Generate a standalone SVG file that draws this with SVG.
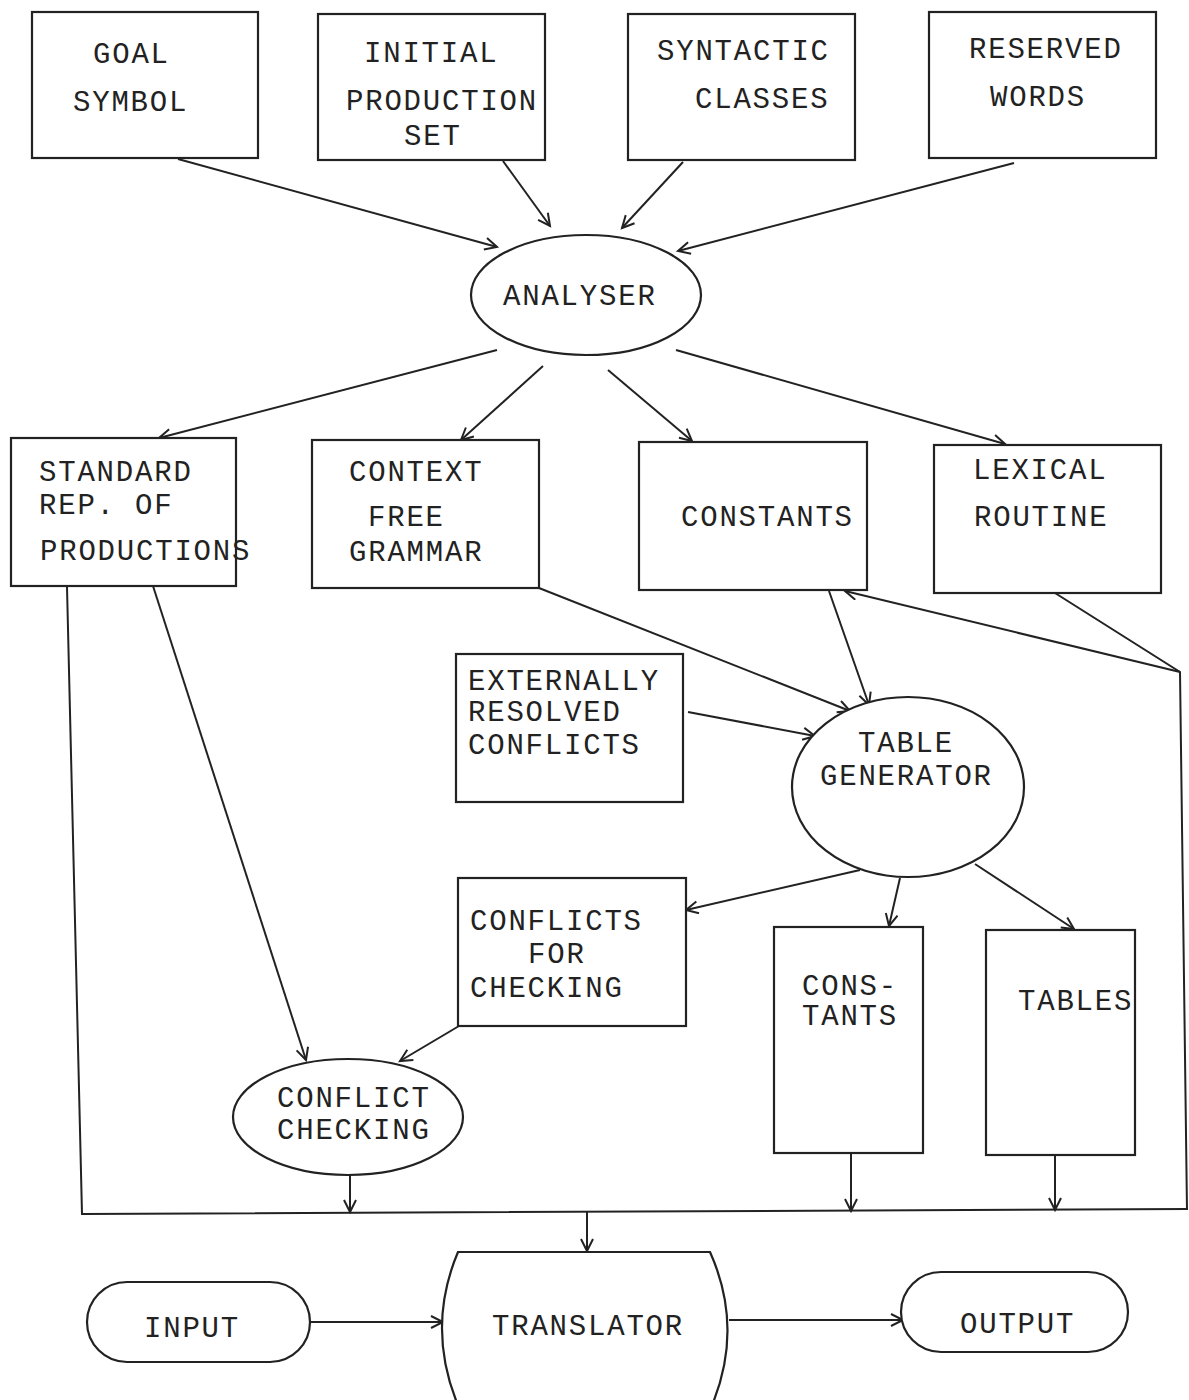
<svg xmlns="http://www.w3.org/2000/svg" width="1189" height="1400" viewBox="0 0 1189 1400">
<defs>
<marker id="arr" markerUnits="userSpaceOnUse" markerWidth="16" markerHeight="16" refX="13" refY="7" orient="auto">
<path d="M1,1 L13,7 L1,13" fill="none" stroke="#222" stroke-width="2"/>
</marker>
</defs>
<style>
.box{fill:#fff;stroke:#222;stroke-width:2.2}
.ln{fill:none;stroke:#222;stroke-width:2}
.t{font-family:"Liberation Mono","Courier New",monospace;font-size:29px;letter-spacing:1.8px;fill:#222}
</style>
<rect width="1189" height="1400" fill="#fff"/>
<g id="connectors">
<line class="ln" x1="178" y1="159" x2="497" y2="247" marker-end="url(#arr)"/>
<line class="ln" x1="503" y1="161" x2="550" y2="226" marker-end="url(#arr)"/>
<line class="ln" x1="683" y1="162" x2="622" y2="228" marker-end="url(#arr)"/>
<line class="ln" x1="1014" y1="163" x2="678" y2="251" marker-end="url(#arr)"/>
<line class="ln" x1="497" y1="350" x2="159" y2="438" marker-end="url(#arr)"/>
<line class="ln" x1="543" y1="366" x2="461" y2="440" marker-end="url(#arr)"/>
<line class="ln" x1="608" y1="370" x2="692" y2="441" marker-end="url(#arr)"/>
<line class="ln" x1="676" y1="350" x2="1005" y2="444" marker-end="url(#arr)"/>
<line class="ln" x1="539" y1="588" x2="850" y2="711" marker-end="url(#arr)"/>
<line class="ln" x1="829" y1="591" x2="869" y2="705" marker-end="url(#arr)"/>
<line class="ln" x1="688" y1="712" x2="815" y2="736" marker-end="url(#arr)"/>
<polyline class="ln" points="1055,593 1180,672 1187,1210"/>
<line class="ln" x1="1180" y1="672" x2="845" y2="591" marker-end="url(#arr)"/>
<line class="ln" x1="153" y1="586" x2="306" y2="1060" marker-end="url(#arr)"/>
<polyline class="ln" points="67,587 82,1214 1188,1209"/>
<line class="ln" x1="860" y1="870" x2="686" y2="910" marker-end="url(#arr)"/>
<line class="ln" x1="900" y1="878" x2="889" y2="926" marker-end="url(#arr)"/>
<line class="ln" x1="975" y1="864" x2="1074" y2="929" marker-end="url(#arr)"/>
<line class="ln" x1="459" y1="1026" x2="400" y2="1061" marker-end="url(#arr)"/>
<line class="ln" x1="350" y1="1175" x2="350" y2="1212" marker-end="url(#arr)"/>
<line class="ln" x1="851" y1="1153" x2="851" y2="1211" marker-end="url(#arr)"/>
<line class="ln" x1="1055" y1="1155" x2="1055" y2="1210" marker-end="url(#arr)"/>
<line class="ln" x1="587" y1="1212" x2="587" y2="1251" marker-end="url(#arr)"/>
<line class="ln" x1="310" y1="1322" x2="443" y2="1322" marker-end="url(#arr)"/>
<line class="ln" x1="729" y1="1320" x2="903" y2="1320" marker-end="url(#arr)"/>
</g>
<g id="goal"><rect class="box" x="32" y="12" width="226" height="146"/>
<text class="t"><tspan x="93" y="63">GOAL</tspan><tspan x="73" y="111">SYMBOL</tspan></text></g>
<g id="initial"><rect class="box" x="318" y="14" width="227" height="146"/>
<text class="t"><tspan x="364" y="62">INITIAL</tspan><tspan x="346" y="110">PRODUCTION</tspan><tspan x="404" y="145">SET</tspan></text></g>
<g id="syntactic"><rect class="box" x="628" y="14" width="227" height="146"/>
<text class="t"><tspan x="657" y="60">SYNTACTIC</tspan><tspan x="695" y="108">CLASSES</tspan></text></g>
<g id="reserved"><rect class="box" x="929" y="12" width="227" height="146"/>
<text class="t"><tspan x="969" y="58">RESERVED</tspan><tspan x="990" y="106">WORDS</tspan></text></g>
<g id="analyser"><ellipse class="box" cx="586" cy="295" rx="115" ry="60"/>
<text class="t" x="503" y="305">ANALYSER</text></g>
<g id="standard"><rect class="box" x="11" y="438" width="225" height="148"/>
<text class="t"><tspan x="39" y="481">STANDARD</tspan><tspan x="39" y="514">REP.  OF</tspan><tspan x="40" y="560">PRODUCTIONS</tspan></text></g>
<g id="cfg"><rect class="box" x="312" y="440" width="227" height="148"/>
<text class="t"><tspan x="349" y="481">CONTEXT</tspan><tspan x="368" y="526">FREE</tspan><tspan x="349" y="561">GRAMMAR</tspan></text></g>
<g id="constants"><rect class="box" x="639" y="442" width="228" height="148"/>
<text class="t" x="681" y="526">CONSTANTS</text></g>
<g id="lexical"><rect class="box" x="934" y="445" width="227" height="148"/>
<text class="t"><tspan x="973" y="479">LEXICAL</tspan><tspan x="974" y="526">ROUTINE</tspan></text></g>
<g id="external"><rect class="box" x="456" y="654" width="227" height="148"/>
<text class="t"><tspan x="468" y="690">EXTERNALLY</tspan><tspan x="468" y="721">RESOLVED</tspan><tspan x="468" y="754">CONFLICTS</tspan></text></g>
<g id="tablegen"><ellipse class="box" cx="908" cy="787" rx="116" ry="90"/>
<text class="t"><tspan x="858" y="752">TABLE</tspan><tspan x="820" y="785">GENERATOR</tspan></text></g>
<g id="conflicts"><rect class="box" x="458" y="878" width="228" height="148"/>
<text class="t"><tspan x="470" y="930">CONFLICTS</tspan><tspan x="528" y="963">FOR</tspan><tspan x="470" y="997">CHECKING</tspan></text></g>
<g id="constants2"><rect class="box" x="774" y="927" width="149" height="226"/>
<text class="t"><tspan x="802" y="995">CONS-</tspan><tspan x="802" y="1025">TANTS</tspan></text></g>
<g id="tables"><rect class="box" x="986" y="930" width="149" height="225"/>
<text class="t" x="1018" y="1010">TABLES</text></g>
<g id="checking"><ellipse class="box" cx="348" cy="1117" rx="115" ry="58"/>
<text class="t"><tspan x="277" y="1107">CONFLICT</tspan><tspan x="277" y="1139">CHECKING</tspan></text></g>
<g id="translator"><path class="box" d="M458,1252 L710,1252 Q745,1330 710,1410 L460,1410 Q425,1330 458,1252 Z"/>
<text class="t" x="492" y="1335">TRANSLATOR</text></g>
<g id="input"><rect class="box" x="87" y="1282" width="223" height="80" rx="40" ry="40"/>
<text class="t" x="144" y="1337">INPUT</text></g>
<g id="output"><rect class="box" x="901" y="1272" width="227" height="80" rx="40" ry="40"/>
<text class="t" x="960" y="1333">OUTPUT</text></g>
</svg>
